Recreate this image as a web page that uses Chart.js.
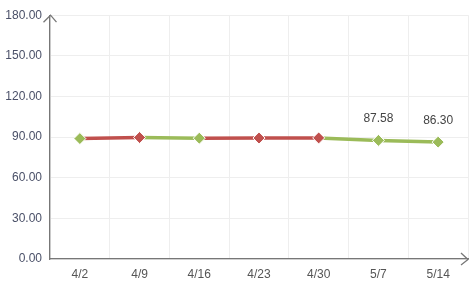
<!DOCTYPE html>
<html><head><meta charset="utf-8">
<script src="https://cdn.jsdelivr.net/npm/chart.js@4/dist/chart.umd.min.js"></script>
<style>html,body{margin:0;padding:0;background:#fff}#w{width:475px;height:288px}</style>
</head><body><div id="w"><canvas id="c"></canvas></div>
<script>
const categories = ['4/2','4/9','4/16','4/23','4/30','5/7','5/14'];
const values = [88.9, 89.7, 89.2, 89.3, 89.4, 87.58, 86.30];
const labeledPoints = [5, 6];
const yTicks = [0, 30, 60, 90, 120, 150, 180];
const GREEN = '#9bbb59', RED = '#c0504d';
const pointColors = values.map((v,i)=> i===0 ? GREEN : (v > values[i-1] ? RED : GREEN));

const arrows = {
  id:'arrows',
  afterDraw(chart){
    const {ctx, chartArea:a} = chart;
    ctx.save();
    ctx.strokeStyle = '#777'; ctx.lineWidth = 1.3;
    ctx.beginPath();
    ctx.moveTo(a.left-6.5, a.top+7); ctx.lineTo(a.left+0.5, a.top); ctx.lineTo(a.left+6.5, a.top+7);
    ctx.moveTo(a.right-7, a.bottom-6); ctx.lineTo(a.right, a.bottom+0.5); ctx.lineTo(a.right-7, a.bottom+6);
    ctx.stroke();
    ctx.restore();
  }
};
const labels = {
  id:'labels',
  afterDatasetsDraw(chart){
    const {ctx} = chart;
    const meta = chart.getDatasetMeta(0);
    ctx.save();
    ctx.font = '12px Arial, "Liberation Sans", sans-serif';
    ctx.fillStyle = '#444'; ctx.textAlign='center'; ctx.textBaseline='alphabetic';
    labeledPoints.forEach(i=>{
      const p = meta.data[i];
      ctx.fillText(values[i].toFixed(2), p.x, p.y - 18);
    });
    ctx.restore();
  }
};

new Chart(document.getElementById('c'), {
  type:'line',
  data:{labels:categories, datasets:[{
    data:values,
    borderWidth:3.5,
    segment:{borderColor: c => pointColors[c.p1DataIndex]},
    borderColor: GREEN,
    pointStyle:'rectRot', pointRadius:6, pointHoverRadius:6,
    pointBackgroundColor: pointColors, pointBorderColor:'#fff', pointBorderWidth:1,
    tension:0
  }]},
  options:{
    responsive:true, maintainAspectRatio:false, animation:false,
    layout:{padding:{left:0,right:7,top:15,bottom:0}},
    plugins:{legend:{display:false}, tooltip:{enabled:false}},
    scales:{
      x:{
        offset:true,
        grid:{color:'#eee', offset:true, drawTicks:false},
        border:{color:'#777', width:1.3},
        ticks:{color:'#555', font:{size:12, family:'Arial, "Liberation Sans", sans-serif'}, padding:8},
        afterFit(s){ s.height = 29; }
      },
      y:{
        min:0, max:180,
        afterBuildTicks(s){ s.ticks = yTicks.map(v=>({value:v})); },
        grid:{color:'#eee', drawTicks:false},
        border:{color:'#777', width:1.3},
        ticks:{color:'#4a5068', font:{size:12, family:'Arial, "Liberation Sans", sans-serif'}, padding:8, callback:v=>Number(v).toFixed(2)},
        afterFit(s){ s.width = 50; }
      }
    }
  },
  plugins:[arrows, labels]
});
</script>
</body></html>
